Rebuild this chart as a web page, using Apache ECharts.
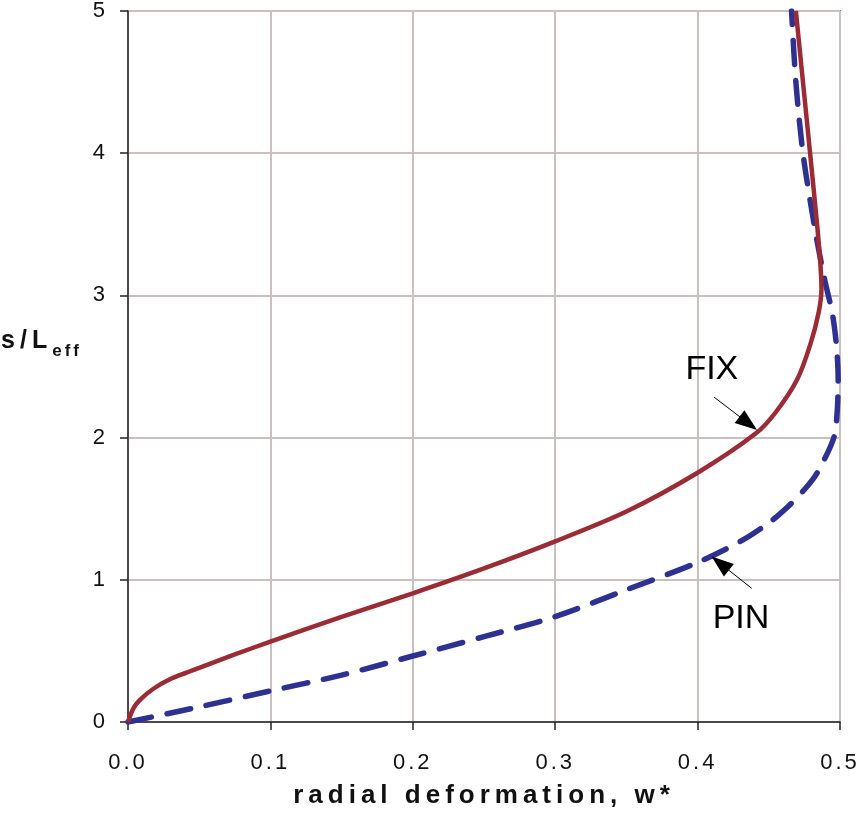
<!DOCTYPE html>
<html><head><meta charset="utf-8">
<script src="https://cdn.jsdelivr.net/npm/echarts@6/dist/echarts.min.js"></script>
<style>html,body{margin:0;padding:0;background:#fff}#c{width:859px;height:816px}</style>
</head><body><div id="c"></div>
<script>
// letter spacing for axis texts (style only)
(function(){
  var P = CanvasRenderingContext2D.prototype;
  if (!('letterSpacing' in P)) return;
  var ft = P.fillText, mt = P.measureText;
  function ls(ctx){
    var f = ctx.font || '';
    if (/Liberation/.test(f)) {
      var m = f.match(/(\d+(?:\.\d+)?)px/);
      var sz = m ? parseFloat(m[1]) : 0;
      var k = /bold|700/.test(f) ? 0.2 : 0.14;
      ctx.letterSpacing = Math.round(sz * k) + 'px';
    } else ctx.letterSpacing = '0px';
  }
  P.fillText = function(){ ls(this); return ft.apply(this, arguments); };
  P.measureText = function(){ ls(this); return mt.apply(this, arguments); };
})();

// ---- data (w*, s/Leff) ----
var fixData = [[0,0],[0.0037,0.094],[0.0084,0.155],[0.0176,0.232],[0.0294,0.30],[0.0411,0.347],[0.05,0.38],[0.075,0.475],[0.1,0.565],[0.15,0.74],[0.2,0.905],[0.25,1.08],[0.3,1.27],[0.35,1.48],[0.4,1.753],[0.441,2.03],[0.455,2.18],[0.47,2.41],[0.479,2.65],[0.485,2.88],[0.487,3.05],[0.486,3.25],[0.484,3.49],[0.479,4.0],[0.474,4.5],[0.469,5.0]];
var pinData = [[0,0],[0.05,0.106],[0.1,0.219],[0.15,0.33],[0.2,0.464],[0.25,0.6],[0.3,0.741],[0.35,0.93],[0.4,1.122],[0.43,1.27],[0.45,1.40],[0.463,1.51],[0.4755,1.64],[0.484,1.753],[0.4957,2.0],[0.498,2.18],[0.4987,2.41],[0.4975,2.65],[0.4945,2.88],[0.489,3.12],[0.482,3.49],[0.474,4.0],[0.469,4.5],[0.466,5.0]];
var seriesNames = ['FIX','PIN'];
var xTicks = [0, 0.1, 0.2, 0.3, 0.4, 0.5];
var yTicks = [0, 1, 2, 3, 4, 5];
var xTitle = 'radial deformation, w*';
var yTitleMain = 's/L';
var yTitleSub = 'eff';
// annotation anchors (data coords)
var fixArrow = [[0.4115,2.285],[0.4356,2.101]];
var pinArrow = [[0.438,0.940],[0.4159,1.115]];
var fixLabelPos = [0.410,2.475];
var pinLabelPos = [0.4305,0.73];

var chart = echarts.init(document.getElementById('c'), null, {renderer:'canvas'});
var font = '"Liberation Sans", Arial, sans-serif';
var annoFont = 'Arial, sans-serif';
function arrowLine(pts){
  return {
    silent:true, symbol:['none','triangle'], symbolSize:[16,22],
    lineStyle:{color:'#000', width:1, type:'solid'}, itemStyle:{color:'#000'},
    label:{show:false}, animation:false,
    data:[[{coord:pts[0]},{coord:pts[1]}]]
  };
}
function textPoint(name,pos){
  return {
    silent:true, symbol:'circle', symbolSize:1, itemStyle:{color:'rgba(0,0,0,0)'},
    label:{show:true, position:'inside', formatter:name, fontSize:34, color:'#000', fontFamily:annoFont},
    data:[{coord:pos}], animation:false
  };
}
chart.setOption({
  animation:false,
  backgroundColor:'#fff',
  grid:{left:128, right:19, top:11, bottom:94, outerBoundsMode:'none', containLabel:false, show:true, borderColor:'#222', borderWidth:1.5, backgroundColor:'transparent'},
  xAxis:{
    type:'value', min:xTicks[0], max:xTicks[xTicks.length-1], interval:0.1,
    name:xTitle, nameLocation:'middle', nameGap:37,
    nameTextStyle:{fontSize:26, fontWeight:'bold', color:'#111', fontFamily:font},
    axisLine:{show:true, onZero:false, lineStyle:{color:'#222', width:1.5}},
    axisTick:{show:true, inside:false, length:8, lineStyle:{color:'#222', width:1.5}},
    axisLabel:{fontSize:22, color:'#111', fontFamily:font, margin:28, formatter:function(v){return v.toFixed(1);}},
    splitLine:{show:true, lineStyle:{color:'#c9c0bf', width:2}}
  },
  yAxis:{
    type:'value', min:yTicks[0], max:yTicks[yTicks.length-1], interval:1,
    name:'{a|'+yTitleMain+'}{b|'+yTitleSub+'}', nameLocation:'middle', nameRotate:0, nameGap:46,
    nameTextStyle:{padding:[0,0,40,0], rich:{
      a:{fontSize:25, fontWeight:'bold', color:'#111', fontFamily:font, lineHeight:28, padding:[0,0,10,0]},
      b:{fontSize:17, fontWeight:'bold', color:'#111', fontFamily:font, lineHeight:20, padding:[10,0,0,0]}
    }},
    axisLine:{show:true, onZero:false, lineStyle:{color:'#222', width:1.5}},
    axisTick:{show:true, inside:false, length:8, lineStyle:{color:'#222', width:1.5}},
    axisLabel:{fontSize:22, color:'#111', fontFamily:font, margin:20},
    splitLine:{show:true, lineStyle:{color:'#c9c0bf', width:2}}
  },
  series:[
    {name:seriesNames[0], type:'line', data:fixData, showSymbol:false, smooth:0.3, z:3,
     lineStyle:{color:'#9b2b35', width:4.5}, markLine:arrowLine(fixArrow), markPoint:textPoint(seriesNames[0], fixLabelPos)},
    {name:seriesNames[1], type:'line', data:pinData, showSymbol:false, smooth:0.3, z:2,
     lineStyle:{color:'#2e3192', width:5.5, type:[24,16], cap:'round'}, markLine:arrowLine(pinArrow), markPoint:textPoint(seriesNames[1], pinLabelPos)}
  ]
});
</script></body></html>
